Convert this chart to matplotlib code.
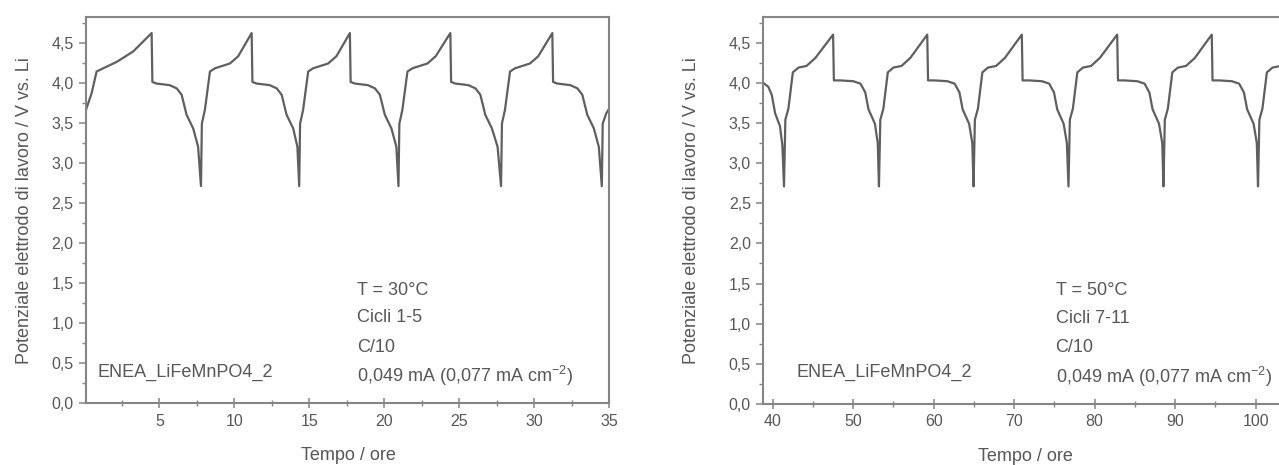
#!/usr/bin/env python3
"""
Cicli galvanostatici ENEA_LiFeMnPO4_2 a 30 °C e 50 °C
"""

import matplotlib
matplotlib.use('Agg')
import matplotlib.pyplot as plt
from matplotlib.ticker import MultipleLocator, FuncFormatter

plt.rcParams['font.family'] = ['Liberation Sans', 'DejaVu Sans']
plt.rcParams['mathtext.fontset'] = 'custom'
plt.rcParams['mathtext.rm'] = 'Liberation Sans'
plt.rcParams['mathtext.it'] = 'Liberation Sans'

# ---- T = 30 °C, cicli 1-5 (tempo in ore, potenziale in V) ----
t_30 = [0.1, 0.48, 0.81, 1.25, 2.15, 3.25, 4.48,
        4.53, 4.8, 5.68, 6.15, 6.48, 6.81, 7.25, 7.58, 7.77,
        7.83, 8.03, 8.37, 8.7, 9.7, 10.25, 11.15,
        11.2, 11.47, 12.35, 12.82, 13.15, 13.48, 13.92, 14.2, 14.32,
        14.38, 14.58, 14.92, 15.25, 16.25, 16.8, 17.7,
        17.75, 18.02, 18.9, 19.37, 19.7, 20.03, 20.47, 20.8, 20.94,
        21.0, 21.2, 21.54, 21.87, 22.87, 23.42, 24.4,
        24.45, 24.72, 25.6, 26.07, 26.4, 26.73, 27.17, 27.55, 27.78,
        27.84, 28.04, 28.38, 28.71, 29.71, 30.26, 31.2,
        31.25, 31.52, 32.4, 32.87, 33.2, 33.53, 33.97, 34.3, 34.5,
        34.56, 34.8, 35.0]
v_30 = [3.66, 3.87, 4.14, 4.18, 4.26, 4.39, 4.62,
        4.01, 3.99, 3.97, 3.93, 3.85, 3.60, 3.43, 3.20, 2.71,
        3.49, 3.66, 4.14, 4.18, 4.24, 4.33, 4.62,
        4.01, 3.99, 3.97, 3.93, 3.85, 3.60, 3.43, 3.20, 2.71,
        3.49, 3.66, 4.14, 4.18, 4.24, 4.33, 4.62,
        4.01, 3.99, 3.97, 3.93, 3.85, 3.60, 3.43, 3.20, 2.71,
        3.49, 3.66, 4.14, 4.18, 4.24, 4.33, 4.62,
        4.01, 3.99, 3.97, 3.93, 3.85, 3.60, 3.43, 3.20, 2.71,
        3.49, 3.66, 4.14, 4.18, 4.24, 4.33, 4.62,
        4.01, 3.99, 3.97, 3.93, 3.85, 3.60, 3.43, 3.20, 2.71,
        3.49, 3.62, 3.68]

# ---- T = 50 °C, cicli 7-11 ----
t_50 = [38.83, 39.45, 39.88, 40.3, 40.9, 41.2, 41.4,
        41.57, 41.95, 42.5, 43.2, 44.2, 45.3, 47.5,
        47.6, 48.4, 50.0, 50.9, 51.5, 51.9, 52.7, 53.05, 53.2,
        53.37, 53.75, 54.3, 55.0, 56.0, 57.1, 59.2,
        59.3, 60.1, 61.7, 62.6, 63.2, 63.6, 64.4, 64.8, 64.95,
        65.12, 65.5, 66.05, 66.75, 67.75, 68.85, 70.95,
        71.05, 71.85, 73.45, 74.35, 74.95, 75.35, 76.15, 76.55, 76.75,
        76.92, 77.3, 77.85, 78.55, 79.55, 80.65, 82.8,
        82.9, 83.7, 85.3, 86.2, 86.8, 87.2, 88.0, 88.4, 88.55,
        88.72, 89.1, 89.65, 90.35, 91.35, 92.45, 94.55,
        94.65, 95.45, 97.05, 97.95, 98.55, 98.95, 99.75, 100.15, 100.3,
        100.47, 100.85, 101.4, 102.1, 103.1, 104.2]
v_50 = [4.00, 3.95, 3.85, 3.62, 3.46, 3.22, 2.71,
        3.54, 3.68, 4.13, 4.19, 4.21, 4.31, 4.60,
        4.03, 4.03, 4.02, 3.99, 3.88, 3.67, 3.49, 3.25, 2.71,
        3.54, 3.68, 4.13, 4.19, 4.21, 4.31, 4.60,
        4.03, 4.03, 4.02, 3.99, 3.88, 3.67, 3.49, 3.25, 2.71,
        3.54, 3.68, 4.13, 4.19, 4.21, 4.31, 4.60,
        4.03, 4.03, 4.02, 3.99, 3.88, 3.67, 3.49, 3.25, 2.71,
        3.54, 3.68, 4.13, 4.19, 4.21, 4.31, 4.60,
        4.03, 4.03, 4.02, 3.99, 3.88, 3.67, 3.49, 3.25, 2.71,
        3.54, 3.68, 4.13, 4.19, 4.21, 4.31, 4.60,
        4.03, 4.03, 4.02, 3.99, 3.88, 3.67, 3.49, 3.25, 2.71,
        3.54, 3.68, 4.13, 4.19, 4.21, 4.31]

sample_name = 'ENEA_LiFeMnPO4_2'
info_30 = ['T = 30°C', 'Cicli 1-5', 'C/10', '0,049 mA (0,077 mA cm$^{-2}$)']
info_50 = ['T = 50°C', 'Cicli 7-11', 'C/10', '0,049 mA (0,077 mA cm$^{-2}$)']

LINE_COLOR = '#5f5f5f'
AXIS_COLOR = '#858585'
TEXT_COLOR = '#575757'


def style_axes(ax, xmajor, xminor):
    for sp in ax.spines.values():
        sp.set_color(AXIS_COLOR)
        sp.set_linewidth(1.5)
    ax.xaxis.set_major_locator(MultipleLocator(xmajor))
    ax.xaxis.set_minor_locator(MultipleLocator(xminor))
    ax.yaxis.set_major_locator(MultipleLocator(0.5))
    ax.yaxis.set_minor_locator(MultipleLocator(0.25))
    ax.yaxis.set_major_formatter(FuncFormatter(lambda v, p: f'{v:.1f}'.replace('.', ',')))
    ax.xaxis.set_major_formatter(FuncFormatter(lambda v, p: f'{v:.0f}'))
    ax.tick_params(which='major', direction='out', length=5, width=1.1,
                   color=AXIS_COLOR, labelsize=11.5, labelcolor=TEXT_COLOR, pad=4)
    ax.tick_params(which='minor', direction='out', length=3, width=1.0, color=AXIS_COLOR)
    ax.tick_params(axis='x', which='major', direction='inout', length=7)
    ax.tick_params(axis='x', which='minor', direction='inout', length=4)
    ax.set_xlabel('Tempo / ore', fontsize=13, color=TEXT_COLOR)
    ax.set_ylabel('Potenziale elettrodo di lavoro / V vs. Li', fontsize=13, color=TEXT_COLOR)


def main():
    fig = plt.figure(figsize=(12.79, 4.65), dpi=100)

    # ========== 30 °C ==========
    ax1 = fig.add_axes([0.0672, 0.1327, 0.4092, 0.8307])
    ax1.plot(t_30, v_30, color=LINE_COLOR, linewidth=1.6)
    ax1.set_xlim(0.1, 35.0)
    ax1.set_ylim(0, 4.82)
    style_axes(ax1, 5, 2.5)
    ax1.xaxis.set_label_coords(0.502, -0.113)
    ax1.yaxis.set_label_coords(-0.101, 0.5)

    ax1.text(0.9, 0.39, sample_name, fontsize=13, color=TEXT_COLOR, va='center')
    for v, line in zip([1.41, 1.07, 0.70, 0.34], info_30):
        ax1.text(18.15, v, line, fontsize=13, color=TEXT_COLOR, va='center')

    # ========== 50 °C ==========
    ax2 = fig.add_axes([0.5968, 0.1312, 0.4063, 0.8316])
    ax2.plot(t_50, v_50, color=LINE_COLOR, linewidth=1.6)
    ax2.set_xlim(38.83, 103.4)
    ax2.set_ylim(0, 4.816)
    style_axes(ax2, 10, 5)
    ax2.xaxis.set_label_coords(0.505, -0.113)
    ax2.yaxis.set_label_coords(-0.122, 0.5)

    ax2.text(42.9, 0.39, sample_name, fontsize=13, color=TEXT_COLOR, va='center')
    for v, line in zip([1.41, 1.07, 0.70, 0.34], info_50):
        ax2.text(75.15, v, line, fontsize=13, color=TEXT_COLOR, va='center')

    fig.savefig('out.png', dpi=100)


if __name__ == '__main__':
    main()
